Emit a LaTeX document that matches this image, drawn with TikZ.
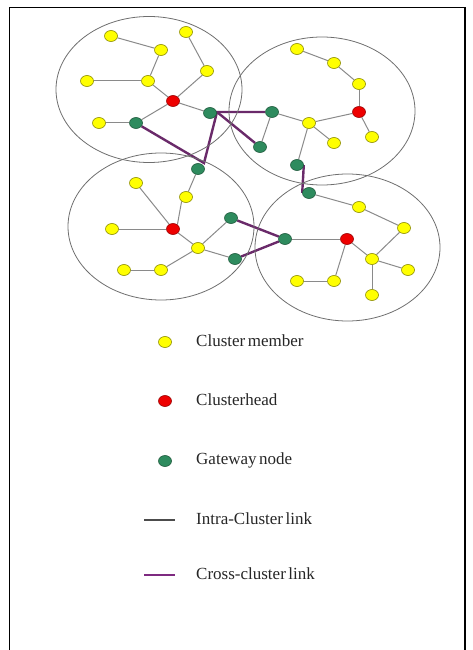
\documentclass[tikz,border=0pt]{standalone}
\usepackage{fontspec}
\setmainfont{Liberation Serif}
\usetikzlibrary{shapes.geometric,backgrounds}
\definecolor{ymem}{HTML}{FFFF00}
\definecolor{ymemb}{HTML}{8C8C00}
\definecolor{rhead}{HTML}{EE0000}
\definecolor{rheadb}{HTML}{990000}
\definecolor{ggw}{HTML}{2E8B5E}
\definecolor{ggwb}{HTML}{1E5A3C}
\definecolor{cpurple}{HTML}{6A2A6A}
\definecolor{lpurple}{HTML}{7E2A80}
\definecolor{linkgray}{HTML}{8A8A8A}
\definecolor{ringgray}{HTML}{6E6E6E}
\newcommand{\legendfont}{\fontsize{17}{20}\selectfont\spaceskip=2.6pt plus 0.5pt\relax}
\begin{document}
\begin{tikzpicture}[x=1pt,y=-1pt,
  nodebase/.style={ellipse,inner sep=0pt,minimum width=13pt,minimum height=11pt,line width=0.6pt},
  mem/.style={nodebase,draw=ymemb,fill=ymem},
  head/.style={nodebase,draw=rheadb,fill=rhead},
  gw/.style={nodebase,draw=ggwb,fill=ggw},
  ring/.style={draw=ringgray,line width=0.8pt},
  intra/.style={draw=linkgray,line width=1pt},
  cross/.style={draw=cpurple,line width=2.4pt,line join=miter},
  legtext/.style={anchor=west,inner sep=0pt,text=black!85,font=\legendfont},
  frame/.style={draw=black,line width=1.5pt}
]
\useasboundingbox (0,0) rectangle (472,650);
% frame
\coordinate (fbl) at (9.5,650);
\coordinate (ftl) at (9.5,7.5);
\coordinate (ftr) at (465,7.5);
\coordinate (fbr) at (465,650);
\draw[frame] (fbl) -- (ftl) -- (ftr) -- (fbr);
% cluster rings
\draw[ring] (149,89.5) ellipse [x radius=93,y radius=73];
\draw[ring] (322,111) ellipse [x radius=93,y radius=74];
\draw[ring] (161,226.5) ellipse [x radius=93,y radius=73.5];
\draw[ring] (347.5,247.5) ellipse [x radius=92.5,y radius=73.5];
% cluster A
\node[mem] (a1) at (111,36) {};
\node[mem] (a2) at (161,50) {};
\node[mem] (a3) at (186,32) {};
\node[mem] (a4) at (207,71) {};
\node[mem] (a5) at (87,81) {};
\node[mem] (a6) at (148,81) {};
\node[head] (ah) at (173,101) {};
\node[gw] (ag1) at (210,113) {};
\node[mem] (a7) at (99,123) {};
\node[gw] (ag2) at (136,123) {};
% cluster B
\node[mem] (b1) at (297,49) {};
\node[mem] (b2) at (334,63) {};
\node[mem] (b3) at (359,84) {};
\node[head] (bh) at (359,112) {};
\node[mem] (b4) at (372,137) {};
\node[gw] (bg1) at (272,112) {};
\node[mem] (b5) at (309,123) {};
\node[mem] (b6) at (334,143) {};
\node[gw] (bg2) at (260,147) {};
\node[gw] (bg3) at (297,165) {};
% cluster C
\node[gw] (cg1) at (198,169) {};
\node[mem] (c1) at (136,183) {};
\node[mem] (c2) at (186,197) {};
\node[head] (ch) at (173,229) {};
\node[mem] (c3) at (112,229) {};
\node[gw] (cg2) at (231,218) {};
\node[mem] (c4) at (198,248) {};
\node[gw] (cg3) at (235,259) {};
\node[mem] (c5) at (124,270) {};
\node[mem] (c6) at (161,270) {};
% cluster D
\node[gw] (dg1) at (309,193) {};
\node[mem] (d1) at (359,207) {};
\node[mem] (d2) at (404,228) {};
\node[gw] (dg2) at (285,239) {};
\node[head] (dh) at (347,239) {};
\node[mem] (d3) at (372,259) {};
\node[mem] (d4) at (408,270) {};
\node[mem] (d5) at (297,281) {};
\node[mem] (d6) at (334,281) {};
\node[mem] (d7) at (372,295) {};
% bends of cross-cluster links
\coordinate (pv1) at (204,163);
\coordinate (pv2) at (217,112);
\begin{pgfonlayer}{background}
% intra links A
\draw[intra] (a1) -- (a2);
\draw[intra] (a2) -- (a6);
\draw[intra] (a3) -- (a4);
\draw[intra] (a5) -- (a6);
\draw[intra] (a6) -- (ah);
\draw[intra] (a4) -- (ah);
\draw[intra] (ah) -- (ag1);
\draw[intra] (ah) -- (ag2);
\draw[intra] (a7) -- (ag2);
% intra links B
\draw[intra] (b1) -- (b2);
\draw[intra] (b2) -- (b3);
\draw[intra] (b3) -- (bh);
\draw[intra] (bh) -- (b4);
\draw[intra] (bh) -- (b5);
\draw[intra] (b5) -- (bg1);
\draw[intra] (b5) -- (b6);
\draw[intra] (b5) -- (bg3);
\draw[intra] (bg1) -- (bg2);
% intra links C
\draw[intra] (c1) -- (ch);
\draw[intra] (c3) -- (ch);
\draw[intra] (cg1) -- (c2);
\draw[intra] (c2.225) -- (ch.45);
\draw[intra] (ch) -- (c4);
\draw[intra] (c4) -- (c6);
\draw[intra] (c6) -- (c5);
\draw[intra] (c4) -- (cg2);
\draw[intra] (c4) -- (cg3);
% intra links D
\draw[intra] (dg1) -- (d1);
\draw[intra] (d1) -- (d2);
\draw[intra] (d2) -- (d3);
\draw[intra] (dh) -- (d3);
\draw[intra] (dg2) -- (dh);
\draw[intra] (dh) -- (d6);
\draw[intra] (d6) -- (d5);
\draw[intra] (d3) -- (d4);
\draw[intra] (d3) -- (d7);
% cross-cluster links
\draw[cross] (ag2) -- (pv1) -- (pv2) -- (bg1);
\draw[cross] (pv2) -- (bg2);
\draw[cross] (bg3.east) -- (dg1.west);
\draw[cross] (cg2) -- (dg2);
\draw[cross] (cg3) -- (dg2);
\end{pgfonlayer}
% legend
\node[mem] (lm) at (165,342) {};
\node[legtext] (tm) at (196,341) {Cluster member};
\node[head] (lh) at (165,401) {};
\node[legtext] (th) at (196,400) {Clusterhead};
\node[gw] (lg) at (165,461) {};
\node[legtext] (tg) at (196,460) {Gateway node};
\coordinate (li1) at (144,520);
\coordinate (li2) at (175,520);
\draw[draw=black!70,line width=1.6pt] (li1) -- (li2);
\node[legtext] (ti) at (196,519) {Intra-Cluster link};
\coordinate (lc1) at (144,575);
\coordinate (lc2) at (175,575);
\draw[draw=lpurple,line width=2.6pt] (lc1) -- (lc2);
\node[legtext] (tc) at (196,574) {Cross-cluster link};
\end{tikzpicture}
\end{document}
